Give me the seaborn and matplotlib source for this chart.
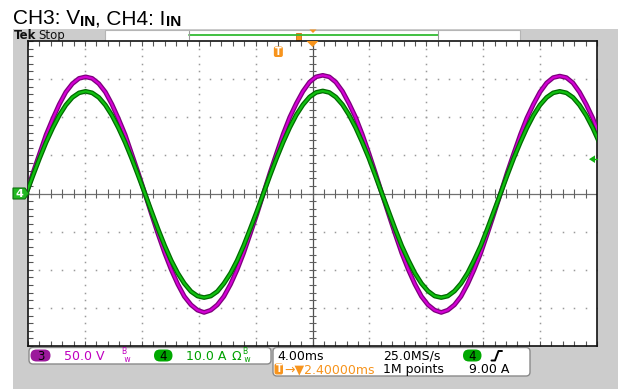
import matplotlib
matplotlib.use("Agg")
import matplotlib.pyplot as plt
import seaborn as sns
import numpy as np
from matplotlib.patches import Rectangle, FancyBboxPatch, Polygon

# ---------------- data ----------------
TIME_MS = [
    -20.12, -19.65, -19.19, -18.73, -18.26, -17.80, -17.34, -16.88, -16.41, -15.95,
    -15.49, -15.02, -14.56, -14.10, -13.64, -13.17, -12.71, -12.25, -11.78, -11.32,
    -10.86, -10.39, -9.93, -9.47, -9.01, -8.54, -8.08, -7.62, -7.15, -6.69,
    -6.23, -5.76, -5.30, -4.84, -4.38, -3.91,
    -3.45, -2.99, -2.52, -2.06, -1.60, -1.14, -0.67, -0.21, 0.25, 0.72,
    1.18, 1.64, 2.11, 2.57, 3.03, 3.49, 3.96, 4.42, 4.88, 5.35,
    5.81, 6.27, 6.74, 7.20, 7.66, 8.12, 8.59, 9.05, 9.51, 9.98,
    10.44, 10.90, 11.36, 11.83, 12.29, 12.75,
    13.22, 13.68, 14.14, 14.61, 15.07, 15.53, 15.99, 16.46, 16.92, 17.38,
    17.85, 18.31, 18.77, 19.24, 19.70, 20.16]

CH3_VOLTS = [
    0, 27, 52, 77, 98, 117, 133, 144, 151, 153,
    151, 144, 133, 117, 98, 77, 52, 27, 0, -27,
    -53, -78, -100, -119, -135, -146, -153, -156, -153, -146,
    -135, -119, -100, -78, -53, -27,
    0, 27, 53, 78, 100, 118, 134, 146, 153, 155,
    153, 146, 134, 118, 100, 78, 53, 27, 0, -27,
    -53, -78, -100, -119, -135, -146, -153, -156, -153, -146,
    -135, -119, -100, -78, -53, -27,
    0, 27, 52, 77, 99, 117, 133, 145, 152, 154,
    152, 145, 133, 117, 99, 77]

CH4_AMPS = [
    0, 4.7, 9.2, 13.4, 17.2, 20.5, 23.2, 25.2, 26.4, 26.8,
    26.4, 25.2, 23.2, 20.5, 17.2, 13.4, 9.2, 4.7, 0, -4.7,
    -9.3, -13.7, -17.6, -20.9, -23.6, -25.7, -26.9, -27.3, -26.9, -25.7,
    -23.6, -20.9, -17.6, -13.7, -9.3, -4.7,
    0, 4.7, 9.3, 13.5, 17.3, 20.6, 23.3, 25.3, 26.5, 26.9,
    26.5, 25.3, 23.3, 20.6, 17.3, 13.5, 9.3, 4.7, 0, -4.7,
    -9.3, -13.7, -17.5, -20.9, -23.6, -25.6, -26.9, -27.3, -26.9, -25.6,
    -23.6, -20.9, -17.5, -13.7, -9.3, -4.7,
    0, 4.7, 9.2, 13.4, 17.2, 20.5, 23.2, 25.2, 26.4, 26.8,
    26.4, 25.2, 23.2, 20.5, 17.2, 13.4]

MS_PER_DIV = 4.0
VOLTS_PER_DIV = 50.0
AMPS_PER_DIV = 10.0
TRIGGER_LEVEL_A = 9.0
TRIGGER_POS_MS = -2.4

CH3_SCALE_TXT = "50.0 V"
CH4_SCALE_TXT = "10.0 A"
HORIZ_TXT = "4.00ms"
RATE_TXT = "25.0MS/s"
DELAY_TXT = "\u2192\u25bc2.40000ms"
POINTS_TXT = "1M points"
TRIG_TXT = "9.00 A"

# ---------------- figure ----------------
sns.set_theme(style="white")
plt.rcParams['font.family'] = ['DejaVu Sans']

W, H = 618, 389
fig = plt.figure(figsize=(W / 100, H / 100), dpi=100)
fig.patch.set_facecolor("white")

bg = fig.add_axes([0, 0, 1, 1], zorder=0)
bg.set_xlim(0, W)
bg.set_ylim(H, 0)
bg.axis("off")

GREY = "#cccccc"
MAG = "#c000c0"
GRN = "#00a000"
ORG = "#f7941d"

bg.add_patch(Rectangle((13, 29), W - 13, H - 29, color=GREY, lw=0))

# title made of pieces (regular + bold subscripts)
renderer = fig.canvas.get_renderer()
def seq_text(x, y, parts):
    for s, kw in parts:
        t = bg.text(x, y, s, va="baseline", ha="left", **kw)
        x += t.get_window_extent(renderer=renderer).width
    return x

big = dict(fontsize=15, family="Liberation Sans", color="black")
sub = dict(fontsize=11, family="Liberation Sans", fontweight="bold", color="black")
x = 13
x = seq_text(x, 24, [("CH3: V", big)])
x = seq_text(x, 25.5, [("IN", sub)])
x = seq_text(x, 24, [(", CH4: I", big)])
x = seq_text(x, 25.5, [("IN", sub)])

# top status bar
bg.text(13.5, 35.5, "Tek", fontsize=8.5, fontweight="bold", va="center", ha="left", color="#111111")
bg.text(38.5, 35.5, "Stop", fontsize=8.5, va="center", ha="left", color="#111111")
bg.add_patch(Rectangle((105, 29.5), 415, 11, fc="white", ec="#b5b5b5", lw=0.8))
bg.plot([189, 438], [34.5, 34.5], color="#33bb33", lw=1.3)
bg.plot([189, 189], [31, 38.5], color="#9a9a9a", lw=0.8)
bg.plot([438, 438], [31, 38.5], color="#9a9a9a", lw=0.8)
bg.add_patch(Rectangle((296, 32.5), 5, 7.5, fc=ORG, ec="#d07010", lw=0.6))
bg.add_patch(Polygon([(309.5, 29.5), (316.5, 29.5), (313, 33)], closed=True, fc=ORG, lw=0))

# ---------------- scope graticule axes ----------------
L, R, T, B = 28, 597, 41, 346
ax = fig.add_axes([L / W, 1 - B / H, (R - L) / W, (B - T) / H], zorder=2)
ax.set_facecolor("white")

xmax = 5 * MS_PER_DIV
ymax = 4 * VOLTS_PER_DIV
imax = 4 * AMPS_PER_DIV

# dotted grid
dot_x, dot_y = [], []
for gx in np.arange(-xmax + MS_PER_DIV, xmax, MS_PER_DIV):
    if abs(gx) < 1e-9:
        continue
    for yy in np.arange(-ymax, ymax + 1e-9, VOLTS_PER_DIV / 5):
        dot_x.append(gx); dot_y.append(yy)
for gy in np.arange(-ymax + VOLTS_PER_DIV, ymax, VOLTS_PER_DIV):
    if abs(gy) < 1e-9:
        continue
    for xx in np.arange(-xmax, xmax + 1e-9, MS_PER_DIV / 5):
        dot_x.append(xx); dot_y.append(gy)
ax.plot(dot_x, dot_y, ls="none", marker="s", ms=1.1, mew=0, color="#9a9a9a", zorder=1)

# center cross with minor ticks
ax.axhline(0, color="#707070", lw=0.9, zorder=1.5)
ax.axvline(0, color="#505050", lw=0.9, zorder=1.5)
ax.vlines(np.arange(-xmax, xmax + 1e-9, MS_PER_DIV / 5), -5.5, 5.5, color="#606060", lw=0.8, zorder=1.5)
ax.hlines(np.arange(-ymax, ymax + 1e-9, VOLTS_PER_DIV / 5), -0.28, 0.28, color="#606060", lw=0.8, zorder=1.5)

# waveform CH3 (voltage)
sns.lineplot(x=TIME_MS, y=CH3_VOLTS, ax=ax, color="#7d007d", linewidth=3.4, zorder=5)
sns.lineplot(x=TIME_MS, y=CH3_VOLTS, ax=ax, color="#d400d4", linewidth=1.6, zorder=6)

ax.set_xlim(-xmax, xmax)
ax.set_ylim(-ymax, ymax)
ax.set_xticks(np.arange(-xmax, xmax + 1e-9, MS_PER_DIV / 5))
ax.set_yticks(np.arange(-ymax, ymax + 1e-9, VOLTS_PER_DIV / 5))
ax.tick_params(axis="both", which="both", direction="in", length=3.5, width=0.8, color="#555555",
               top=True, bottom=True, left=True, right=True,
               labelbottom=False, labelleft=False, labeltop=False, labelright=False)
ax.set_xlabel(""); ax.set_ylabel("")
for s in ax.spines.values():
    s.set_color("#111111"); s.set_linewidth(1.2)

# waveform CH4 (current)
ax2 = ax.twinx()
ax2.set_zorder(ax.get_zorder() + 1)
ax2.patch.set_visible(False)
sns.lineplot(x=TIME_MS, y=CH4_AMPS, ax=ax2, color="#006a00", linewidth=3.4, zorder=5)
sns.lineplot(x=TIME_MS, y=CH4_AMPS, ax=ax2, color="#10c010", linewidth=1.6, zorder=6)
ax2.set_ylim(-imax, imax)
ax2.set_xlim(-xmax, xmax)
ax2.set_yticks([])
ax2.set_ylabel("")
for s in ax2.spines.values():
    s.set_visible(False)

# ---------------- overlay markers ----------------
ov = fig.add_axes([0, 0, 1, 1], zorder=20)
ov.set_xlim(0, W)
ov.set_ylim(H, 0)
ov.axis("off")
ov.patch.set_visible(False)

def tx(t):
    return L + (t + xmax) / (2 * xmax) * (R - L)
def iy(a):
    return T + (imax - a) / (2 * imax) * (B - T)

# trigger position T badge
tpx = tx(TRIGGER_POS_MS)
ov.add_patch(FancyBboxPatch((tpx - 4.5, 46.5), 9, 10.5, boxstyle="round,pad=0,rounding_size=2",
                            fc=ORG, ec="none"))
ov.text(tpx, 52, "T", color="white", fontsize=7, fontweight="bold", ha="center", va="center")
# expansion point triangle
ex = tx(0)
ov.add_patch(Polygon([(ex - 6, T), (ex + 6, T), (ex, T + 6)], closed=True, fc=ORG, lw=0))

# ch4 ground marker
gy = iy(0)
ov.add_patch(Polygon([(13, gy - 5.5), (25, gy - 5.5), (29, gy), (25, gy + 5.5), (13, gy + 5.5)],
                     closed=True, fc="#22b822", ec="#0a700a", lw=0.8))
ov.text(19.5, gy + 0.3, "4", color="white", fontsize=8, fontweight="bold", ha="center", va="center")

# trigger level arrow
ty = iy(TRIGGER_LEVEL_A)
ov.add_patch(Polygon([(589, ty), (595, ty - 3.8), (595, ty + 3.8)], closed=True, fc="#10b010", lw=0))
ov.plot([594, 597], [ty, ty], color="#10b010", lw=1)

# ---------------- bottom readouts ----------------
bg.add_patch(FancyBboxPatch((29, 347.5), 242, 16.5, boxstyle="round,pad=0,rounding_size=4",
                            fc="white", ec="#8a8a8a", lw=1))
bg.add_patch(FancyBboxPatch((273, 347.5), 257, 28.5, boxstyle="round,pad=0,rounding_size=4",
                            fc="white", ec="#8a8a8a", lw=1))

def badge(x0, y0, w, h, fc, label):
    bg.add_patch(FancyBboxPatch((x0, y0), w, h, boxstyle="round,pad=0,rounding_size=%g" % (h / 2),
                                fc=fc, ec="none"))
    bg.text(x0 + w / 2, y0 + h / 2 + 0.5, label, fontsize=8.5, color="black", ha="center", va="center")

row1 = 356
row2 = 369.5
badge(30.5, 349.5, 20, 12, "#9b199b", "3")
bg.text(64, row1, CH3_SCALE_TXT, fontsize=9, color=MAG, ha="left", va="center")
bg.text(121.5, 355.5, "B\n w", fontsize=5.5, color=MAG, ha="left", va="center", linespacing=0.8)

badge(154, 349.5, 18.5, 12, "#00a800", "4")
bg.text(186, row1, CH4_SCALE_TXT, fontsize=9, color=GRN, ha="left", va="center")
bg.text(231.5, row1, "\u03a9", fontsize=9, color=GRN, ha="left", va="center")
bg.text(242, 355.5, "B\n w", fontsize=5.5, color=GRN, ha="left", va="center", linespacing=0.8)

bg.text(277, row1, HORIZ_TXT, fontsize=9, color="black", ha="left", va="center")
bg.text(383, row1, RATE_TXT, fontsize=9, color="black", ha="left", va="center")
badge(463, 349.5, 18.5, 12, "#00a800", "4")
bg.plot([491.5, 495, 498.5, 502], [360.5, 360.5, 351, 351], color="black", lw=1.4)

bg.add_patch(FancyBboxPatch((274.5, 363.5), 8.5, 11, boxstyle="round,pad=0,rounding_size=2",
                            fc=ORG, ec="none"))
bg.text(278.8, 369.3, "T", color="white", fontsize=7, fontweight="bold", ha="center", va="center")
bg.text(284, row2, DELAY_TXT, fontsize=9, color=ORG, ha="left", va="center")
bg.text(383, row2, POINTS_TXT, fontsize=9, color="black", ha="left", va="center")
bg.text(469, row2, TRIG_TXT, fontsize=9, color="black", ha="left", va="center")

fig.savefig("out.png", dpi=100)
